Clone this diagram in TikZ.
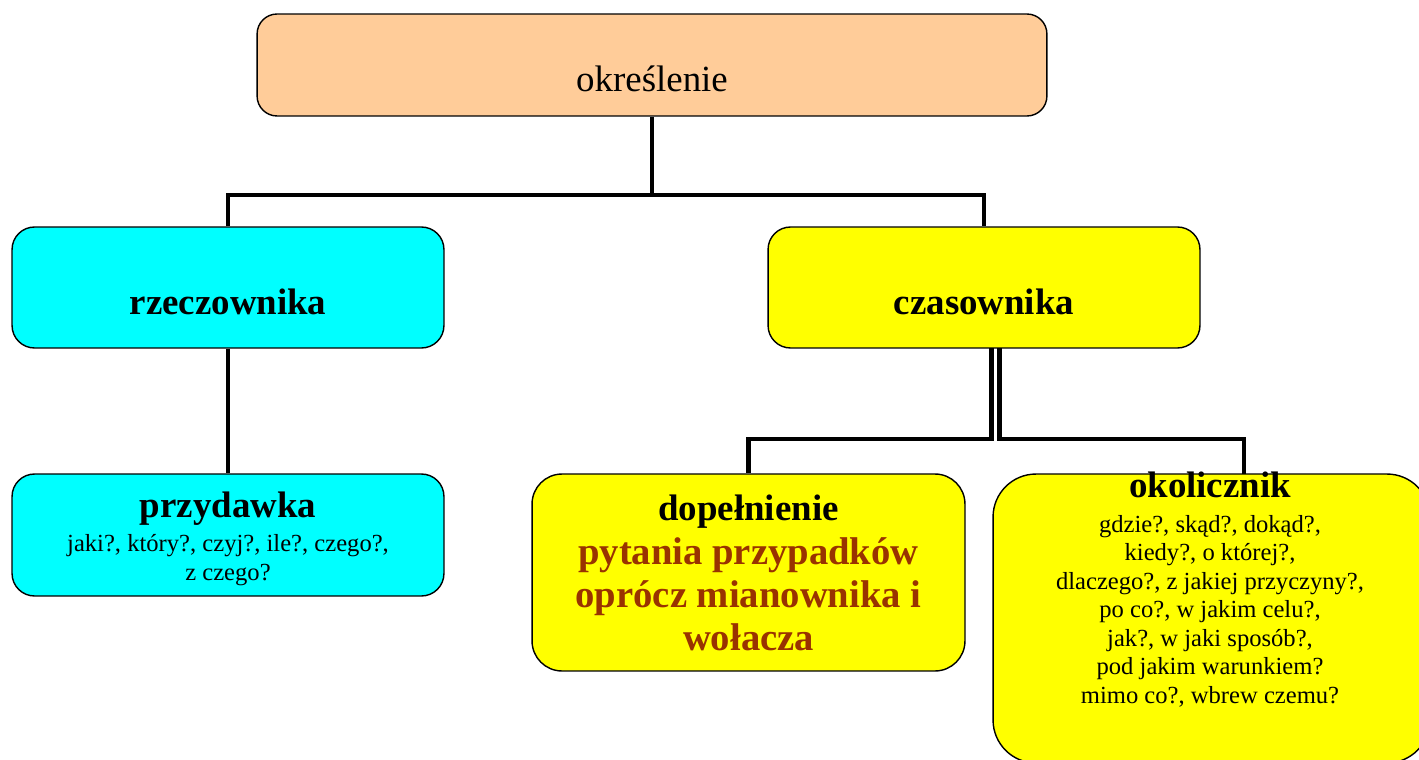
\documentclass[tikz,border=0pt]{standalone}
\usepackage{fontspec}
\setmainfont{Liberation Serif}
\usetikzlibrary{calc}
\definecolor{op_peach}{RGB}{255, 204, 153}
\definecolor{op_cyan}{RGB}{0, 255, 255}
\definecolor{op_yellow}{RGB}{255, 255, 0}
\definecolor{op_brown}{RGB}{153, 51, 0}
\tikzstyle{bx}=[rectangle,draw=black,line width=0.8pt,inner sep=0pt]
\tikzstyle{hd}=[font=\fontsize{21}{24}\selectfont\bfseries,anchor=base,inner sep=0pt]
\tikzstyle{sm}=[font=\fontsize{14}{16.2}\selectfont,align=center,anchor=base,inner sep=0pt]
\tikzstyle{ln}=[line width=2.8pt]
\begin{document}
\begin{tikzpicture}[x=0.02cm, y=-0.02cm]
    \useasboundingbox (0,0) rectangle (1419,760);
    \node [style=bx,fill=op_peach,rounded corners=0.4cm,minimum width=15.8cm,minimum height=2.04cm] (okr) at (652,65) {};
    \node [style=bx,fill=op_cyan,rounded corners=0.45cm,minimum width=8.64cm,minimum height=2.42cm] (rze) at (228,287.5) {};
    \node [style=bx,fill=op_yellow,rounded corners=0.45cm,minimum width=8.64cm,minimum height=2.42cm] (cza) at (984,287.5) {};
    \node [style=bx,fill=op_cyan,rounded corners=0.45cm,minimum width=8.64cm,minimum height=2.44cm] (prz) at (228,535) {};
    \node [style=bx,fill=op_yellow,rounded corners=0.6cm,minimum width=8.66cm,minimum height=3.94cm] (dop) at (748.5,572.5) {};
    \node [style=bx,fill=op_yellow,rounded corners=0.86cm,minimum width=8.74cm,minimum height=5.78cm] (oko) at (1211.5,618.5) {};
    % texts (multi-line ones sit on the baseline of their last line)
    \node [anchor=base,inner sep=0pt,font=\fontsize{21}{24}\selectfont] (okr-t) at (652,92) {określenie};
    \node [style=hd] (rze-t) at (228,314) {rzeczownika};
    \node [style=hd] (cza-t) at (984,314) {czasownika};
    \node [style=hd] (prz-t) at (228,517) {przydawka};
    \node [style=sm] (prz-q) at (228,580) {jaki?, który?, czyj?, ile?, czego?,\\z czego?};
    \node [style=hd] (dop-t) at (748.5,520) {dopełnienie};
    \node [style=hd,align=center,text=op_brown,font=\fontsize{22}{24.4}\selectfont\bfseries] (dop-q) at (748.5,650) {pytania przypadków\\oprócz mianownika i\\wołacza};
    \node [style=hd] (oko-t) at (1210,497) {okolicznik};
    \node [style=sm] (oko-q) at (1210,703) {gdzie?, skąd?, dokąd?,\\kiedy?, o której?,\\dlaczego?, z jakiej przyczyny?,\\po co?, w jakim celu?,\\jak?, w jaki sposób?,\\pod jakim warunkiem?\\mimo co?, wbrew czemu?};
    % connectors
    \coordinate (j1) at (652,195);
    \coordinate (c1) at (991.5,348);
    \coordinate (c2) at (999.5,348);
    \coordinate (j2) at (748.5,439);
    \coordinate (j3) at (1244,439);
    \coordinate (o1) at (1244,474);
    \draw [style=ln] (okr) to (j1);
    \draw [style=ln] (rze.north) |- (j1) -| (cza.north);
    \draw [style=ln] (rze) to (prz);
    \draw [style=ln] (c1) |- (j2) to (dop.north);
    \draw [style=ln] (c2) |- (j3) to (o1);
\end{tikzpicture}
\end{document}
